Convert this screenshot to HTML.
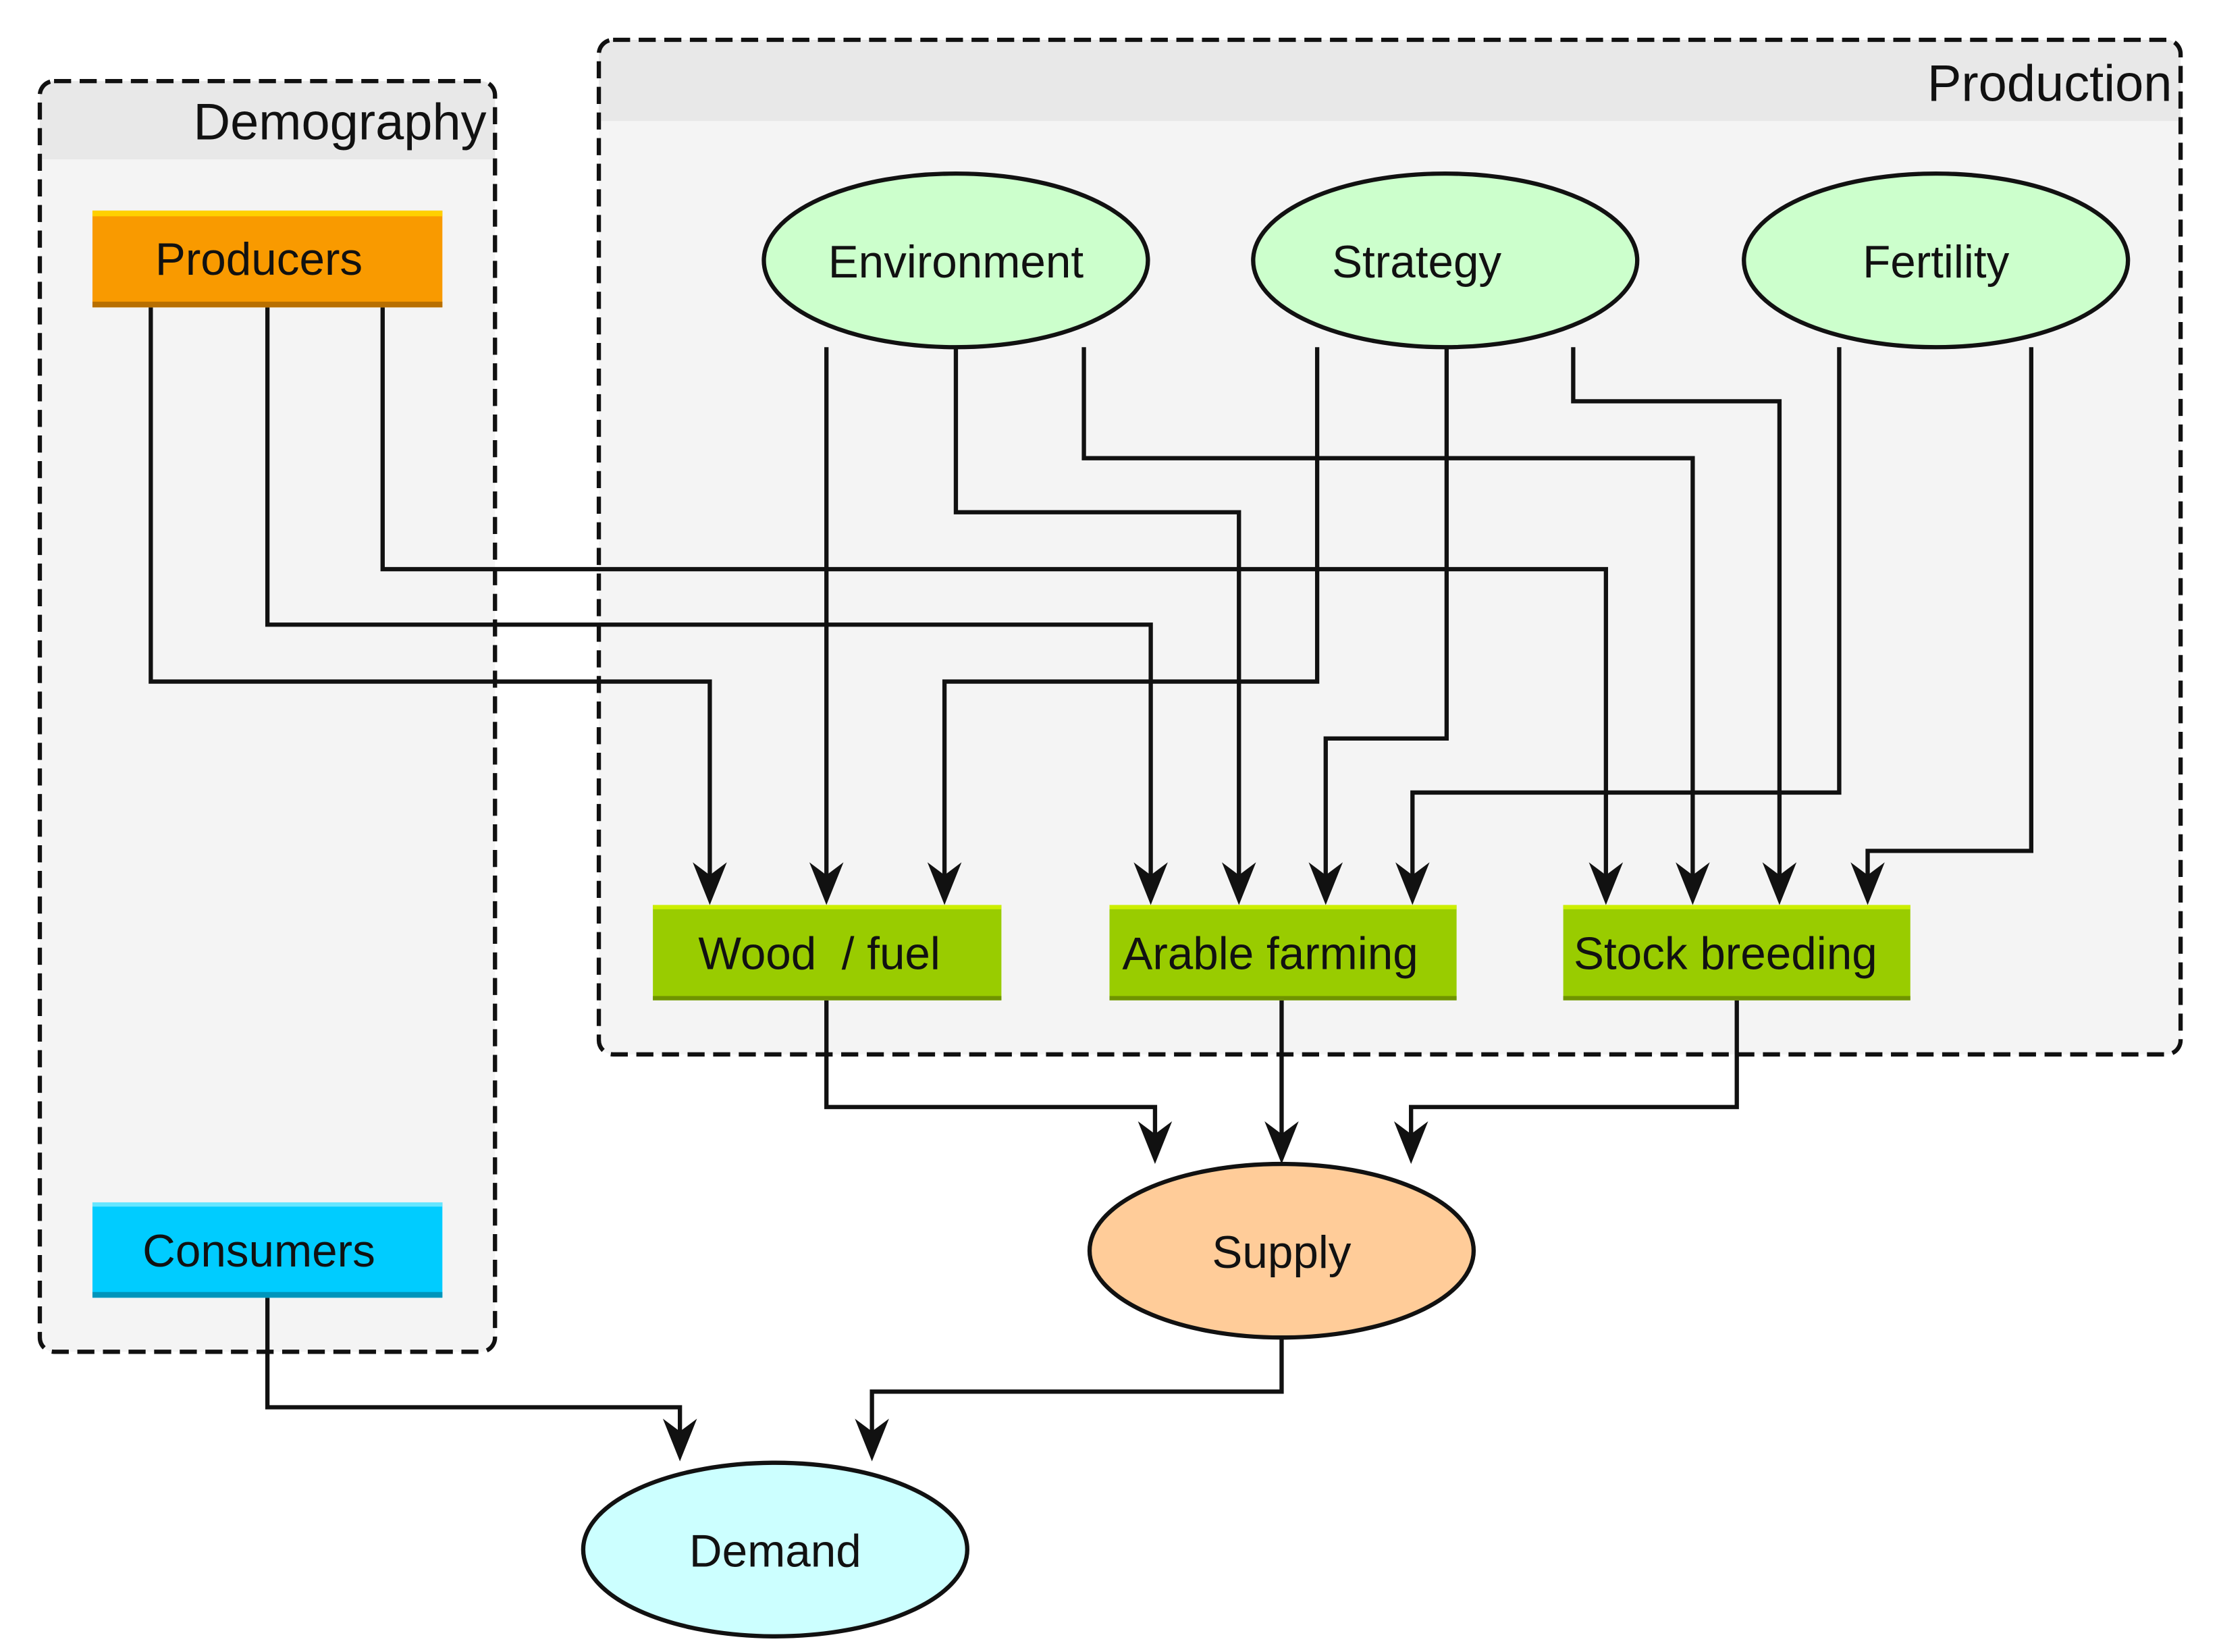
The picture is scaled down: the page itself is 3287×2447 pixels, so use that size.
<!DOCTYPE html>
<html><head><meta charset="utf-8"><style>html,body{margin:0;padding:0;background:#fff}svg{display:block}text{font-family:"Liberation Sans",sans-serif;fill:#111}</style></head>
<body>
<svg width="3287" height="2447" viewBox="0 0 1560 1161" preserveAspectRatio="none" xmlns="http://www.w3.org/2000/svg">
<rect x="28" y="57" width="320" height="893" rx="10" fill="#f4f4f4"/>
<path d="M28,112 V67 a10,10 0 0 1 10,-10 H338 a10,10 0 0 1 10,10 V112 Z" fill="#e8e8e8"/>
<rect x="28" y="57" width="320" height="893" rx="10" fill="none" stroke="#111" stroke-width="3" stroke-dasharray="12,6"/>
<text x="342" y="98" font-size="36" text-anchor="end">Demography</text>

<rect x="421" y="28" width="1112" height="713" rx="10" fill="#f4f4f4"/>
<path d="M421,85 V38 a10,10 0 0 1 10,-10 H1523 a10,10 0 0 1 10,10 V85 Z" fill="#e8e8e8"/>
<rect x="421" y="28" width="1112" height="713" rx="10" fill="none" stroke="#111" stroke-width="3" stroke-dasharray="12,6"/>
<text x="1527" y="71" font-size="36" text-anchor="end">Production</text>

<g fill="none" stroke="#111" stroke-width="3">
<polyline points="106,216 106,479 499,479 499,630"/>
<polyline points="188,216 188,439 809,439 809,630"/>
<polyline points="269,216 269,400 1129,400 1129,630"/>
<polyline points="581,244 581,630"/>
<polyline points="672,244 672,360 871,360 871,630"/>
<polyline points="762,244 762,322 1190,322 1190,630"/>
<polyline points="926,244 926,479 664,479 664,630"/>
<polyline points="1017,244 1017,519 932,519 932,630"/>
<polyline points="1106,244 1106,282 1251,282 1251,630"/>
<polyline points="1293,244 1293,557 993,557 993,630"/>
<polyline points="1428,244 1428,598 1313,598 1313,630"/>
<polyline points="581,703 581,778 812,778 812,812"/>
<polyline points="901,703 901,812"/>
<polyline points="1221,703 1221,778 992,778 992,812"/>
<polyline points="188,912 188,989 478,989 478,1022"/>
<polyline points="901,940 901,978 613,978 613,1022"/>
</g>
<g fill="#111">
<path d="M499,636 l-12,-30 l12,9 l12,-9z"/>
<path d="M581,636 l-12,-30 l12,9 l12,-9z"/>
<path d="M664,636 l-12,-30 l12,9 l12,-9z"/>
<path d="M809,636 l-12,-30 l12,9 l12,-9z"/>
<path d="M871,636 l-12,-30 l12,9 l12,-9z"/>
<path d="M932,636 l-12,-30 l12,9 l12,-9z"/>
<path d="M993,636 l-12,-30 l12,9 l12,-9z"/>
<path d="M1129,636 l-12,-30 l12,9 l12,-9z"/>
<path d="M1190,636 l-12,-30 l12,9 l12,-9z"/>
<path d="M1251,636 l-12,-30 l12,9 l12,-9z"/>
<path d="M1313,636 l-12,-30 l12,9 l12,-9z"/>
<path d="M812,818 l-12,-30 l12,9 l12,-9z"/>
<path d="M901,818 l-12,-30 l12,9 l12,-9z"/>
<path d="M992,818 l-12,-30 l12,9 l12,-9z"/>
<path d="M478,1027 l-12,-30 l12,9 l12,-9z"/>
<path d="M613,1027 l-12,-30 l12,9 l12,-9z"/>
</g>

<rect x="65" y="148" width="246" height="68" fill="#f99a00"/>
<rect x="65" y="148" width="246" height="4" fill="#ffd000"/>
<rect x="65" y="212" width="246" height="4" fill="#b86f00"/>
<text x="182" y="193" font-size="32" text-anchor="middle">Producers</text>

<rect x="65" y="845" width="246" height="67" fill="#00ccff"/>
<rect x="65" y="845" width="246" height="3" fill="#66e6ff"/>
<rect x="65" y="908" width="246" height="4" fill="#0095bb"/>
<text x="182" y="890" font-size="32" text-anchor="middle">Consumers</text>

<g stroke="#111" stroke-width="3">
<ellipse cx="672" cy="183" rx="135" ry="61" fill="#ccffcc"/>
<ellipse cx="1016" cy="183" rx="135" ry="61" fill="#ccffcc"/>
<ellipse cx="1361" cy="183" rx="135" ry="61" fill="#ccffcc"/>
<ellipse cx="901" cy="879" rx="135" ry="61" fill="#ffcc99"/>
<ellipse cx="545" cy="1089" rx="135" ry="61" fill="#ccffff"/>
</g>
<text x="672" y="195" font-size="32" text-anchor="middle">Environment</text>
<text x="996" y="195" font-size="32" text-anchor="middle">Strategy</text>
<text x="1361" y="195" font-size="32" text-anchor="middle">Fertility</text>
<text x="901" y="891" font-size="32" text-anchor="middle">Supply</text>
<text x="545" y="1101" font-size="32" text-anchor="middle">Demand</text>

<g>
<rect x="459" y="636" width="245" height="67" fill="#99cc00"/>
<rect x="459" y="636" width="245" height="3" fill="#ccee00"/>
<rect x="459" y="700" width="245" height="3" fill="#6f9400"/>
<rect x="780" y="636" width="244" height="67" fill="#99cc00"/>
<rect x="780" y="636" width="244" height="3" fill="#ccee00"/>
<rect x="780" y="700" width="244" height="3" fill="#6f9400"/>
<rect x="1099" y="636" width="244" height="67" fill="#99cc00"/>
<rect x="1099" y="636" width="244" height="3" fill="#ccee00"/>
<rect x="1099" y="700" width="244" height="3" fill="#6f9400"/>
</g>
<text x="576" y="681" font-size="32" text-anchor="middle" xml:space="preserve">Wood  / fuel</text>
<text x="893" y="681" font-size="32" text-anchor="middle">Arable farming</text>
<text x="1213" y="681" font-size="32" text-anchor="middle">Stock breeding</text>
</svg>
</body></html>
